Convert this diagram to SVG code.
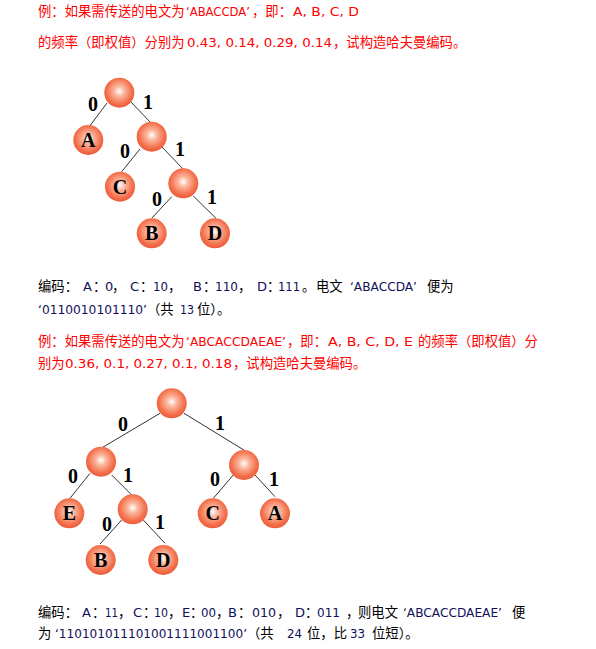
<svg xmlns="http://www.w3.org/2000/svg" width="596" height="649" viewBox="0 0 596 649">
<style>
.t{font-family:"Noto Sans CJK SC","DejaVu Sans",sans-serif;font-size:13.33px}
.l{font-family:"DejaVu Sans","Noto Sans CJK SC",sans-serif;font-size:13px}
.r{fill:#ff0000}
.k{fill:#000000}
.n{fill:#10105a}
.bit{font-family:"Liberation Serif",serif;font-weight:bold;font-size:20px;fill:#000}
.lbl{font-family:"Liberation Serif",serif;font-weight:bold;font-size:20px;fill:#000;text-anchor:middle}
.edge{stroke:#333;stroke-width:1;fill:none}
.ball{fill:url(#g)}
</style>
<defs>
<radialGradient id="g" cx="50%" cy="45%" r="55%">
<stop offset="0" stop-color="#ffffff"/>
<stop offset="0.3" stop-color="#fbb8a0"/>
<stop offset="0.75" stop-color="#f4734f"/>
<stop offset="1" stop-color="#ec5a38"/>
</radialGradient>
</defs>
<rect width="596" height="649" fill="#fff"/>

<g id="text1">
<text class="t r" y="16"><tspan x="38">例：如果需传送的电文为</tspan><tspan x="186" class="l" textLength="64" lengthAdjust="spacingAndGlyphs">‘ABACCDA’</tspan><tspan x="252">，即：</tspan><tspan x="293" class="l" textLength="66" lengthAdjust="spacingAndGlyphs">A, B, C, D</tspan></text>
<text class="t r" y="47"><tspan x="38">的频率（即权值）分别为</tspan><tspan x="187" class="l" textLength="145" lengthAdjust="spacingAndGlyphs">0.43, 0.14, 0.29, 0.14</tspan><tspan x="333">，试构造哈夫曼编码。</tspan></text>
</g>

<g id="tree1-edges">
<line class="edge" x1="107" y1="103" x2="89" y2="127"/>
<line class="edge" x1="130" y1="101" x2="152" y2="124"/>
<line class="edge" x1="140" y1="149" x2="121.7" y2="171.7"/>
<line class="edge" x1="161.7" y1="146.7" x2="184" y2="170"/>
<line class="edge" x1="171.7" y1="196.7" x2="151.7" y2="218.3"/>
<line class="edge" x1="193.3" y1="196" x2="216" y2="218.3"/>
</g>
<g id="tree1-bits">
<text class="bit" x="88" y="111">0</text>
<text class="bit" x="143" y="109">1</text>
<text class="bit" x="120" y="158">0</text>
<text class="bit" x="175" y="156">1</text>
<text class="bit" x="152" y="206">0</text>
<text class="bit" x="207" y="204">1</text>
</g>
<g id="t1-root"><circle class="ball" cx="119.3" cy="92.7" r="15"/></g>
<g id="t1-A"><circle class="ball" cx="88.3" cy="140" r="15"/><text class="lbl" x="88.3" y="147">A</text></g>
<g id="t1-n2"><circle class="ball" cx="151.7" cy="136.7" r="15"/></g>
<g id="t1-C"><circle class="ball" cx="120" cy="186.7" r="15"/><text class="lbl" x="120" y="193.7">C</text></g>
<g id="t1-n3"><circle class="ball" cx="183.3" cy="183.3" r="15"/></g>
<g id="t1-B"><circle class="ball" cx="151.7" cy="233.3" r="15"/><text class="lbl" x="151.7" y="240.3">B</text></g>
<g id="t1-D"><circle class="ball" cx="215" cy="233.3" r="15"/><text class="lbl" x="215" y="240.3">D</text></g>

<g id="text2">
<text class="t k" y="291"><tspan x="38">编码：</tspan><tspan x="83" class="l n">A</tspan><tspan x="93">：</tspan><tspan x="105" class="l n">0</tspan><tspan x="112">，</tspan><tspan x="130" class="l n">C</tspan><tspan x="140">：</tspan><tspan x="153" class="l n" textLength="15" lengthAdjust="spacingAndGlyphs">10</tspan><tspan x="168">，</tspan><tspan x="193" class="l n">B</tspan><tspan x="203">：</tspan><tspan x="215" class="l n" textLength="23" lengthAdjust="spacingAndGlyphs">110</tspan><tspan x="238">，</tspan><tspan x="257" class="l n">D</tspan><tspan x="267">：</tspan><tspan x="278" class="l n" textLength="22" lengthAdjust="spacingAndGlyphs">111</tspan><tspan x="302">。</tspan><tspan x="316">电文</tspan><tspan x="350" class="l n" textLength="67" lengthAdjust="spacingAndGlyphs">‘ABACCDA’</tspan><tspan x="427">便为</tspan></text>
<text class="t k" y="314"><tspan x="38" class="l n" textLength="109" lengthAdjust="spacingAndGlyphs">‘0110010101110’</tspan><tspan x="147">（共</tspan><tspan x="180" class="l n" textLength="14" lengthAdjust="spacingAndGlyphs">13</tspan><tspan x="197">位）。</tspan></text>
<text class="t r" y="346"><tspan x="38">例：如果需传送的电文为</tspan><tspan x="186" class="l" textLength="100" lengthAdjust="spacingAndGlyphs">‘ABCACCDAEAE’</tspan><tspan x="287">，即：</tspan><tspan x="328" class="l" textLength="85" lengthAdjust="spacingAndGlyphs">A, B, C, D, E</tspan><tspan x="418">的频率（即权值）分</tspan></text>
<text class="t r" y="368"><tspan x="38">别为</tspan><tspan x="65" class="l" textLength="167" lengthAdjust="spacingAndGlyphs">0.36, 0.1, 0.27, 0.1, 0.18</tspan><tspan x="233">，试构造哈夫曼编码。</tspan></text>
</g>

<g id="tree2-edges">
<line class="edge" x1="160" y1="413.3" x2="101" y2="448.3"/>
<line class="edge" x1="184" y1="413.3" x2="245" y2="450.7"/>
<line class="edge" x1="90" y1="473.3" x2="70" y2="498.3"/>
<line class="edge" x1="111.7" y1="475" x2="131.7" y2="495"/>
<line class="edge" x1="121.7" y1="520" x2="100" y2="544"/>
<line class="edge" x1="143.3" y1="520" x2="165" y2="543.3"/>
<line class="edge" x1="233.3" y1="475" x2="213.3" y2="498.3"/>
<line class="edge" x1="255" y1="475" x2="275" y2="496.7"/>
</g>
<g id="tree2-bits">
<text class="bit" x="118" y="431">0</text>
<text class="bit" x="215" y="430">1</text>
<text class="bit" x="68" y="483">0</text>
<text class="bit" x="123" y="482">1</text>
<text class="bit" x="210" y="486">0</text>
<text class="bit" x="269" y="486">1</text>
<text class="bit" x="102" y="531">0</text>
<text class="bit" x="155" y="529">1</text>
</g>
<g id="t2-root"><circle class="ball" cx="171.7" cy="403.3" r="15"/></g>
<g id="t2-L"><circle class="ball" cx="101" cy="461.7" r="15"/></g>
<g id="t2-R"><circle class="ball" cx="244" cy="465" r="15"/></g>
<g id="t2-E"><circle class="ball" cx="69.3" cy="513.3" r="15"/><text class="lbl" x="69.3" y="520.3">E</text></g>
<g id="t2-LR"><circle class="ball" cx="132.7" cy="509.3" r="15"/></g>
<g id="t2-C"><circle class="ball" cx="212.7" cy="513.3" r="15"/><text class="lbl" x="212.7" y="520.3">C</text></g>
<g id="t2-A"><circle class="ball" cx="275" cy="513.3" r="15"/><text class="lbl" x="275" y="520.3">A</text></g>
<g id="t2-B"><circle class="ball" cx="100.7" cy="560" r="15"/><text class="lbl" x="100.7" y="567">B</text></g>
<g id="t2-D"><circle class="ball" cx="163.3" cy="560" r="15"/><text class="lbl" x="163.3" y="567">D</text></g>

<g id="text3">
<text class="t k" y="617"><tspan x="38">编码：</tspan><tspan x="82" class="l n">A</tspan><tspan x="92">：</tspan><tspan x="105" class="l n" textLength="13" lengthAdjust="spacingAndGlyphs">11</tspan><tspan x="118">，</tspan><tspan x="133" class="l n">C</tspan><tspan x="143">：</tspan><tspan x="154" class="l n" textLength="14" lengthAdjust="spacingAndGlyphs">10</tspan><tspan x="168">，</tspan><tspan x="182" class="l n">E</tspan><tspan x="190">：</tspan><tspan x="201" class="l n" textLength="15" lengthAdjust="spacingAndGlyphs">00</tspan><tspan x="216">，</tspan><tspan x="228" class="l n">B</tspan><tspan x="238">：</tspan><tspan x="252" class="l n" textLength="24" lengthAdjust="spacingAndGlyphs">010</tspan><tspan x="277">，</tspan><tspan x="295" class="l n">D</tspan><tspan x="305">：</tspan><tspan x="317" class="l n" textLength="23" lengthAdjust="spacingAndGlyphs">011</tspan><tspan x="346">，</tspan><tspan x="358">则电文</tspan><tspan x="403" class="l n" textLength="99" lengthAdjust="spacingAndGlyphs">‘ABCACCDAEAE’</tspan><tspan x="512">便</tspan></text>
<text class="t k" y="638"><tspan x="38">为</tspan><tspan x="55" class="l n" textLength="192" lengthAdjust="spacingAndGlyphs">‘110101011101001111001100’</tspan><tspan x="247">（共</tspan><tspan x="287" class="l n" textLength="15" lengthAdjust="spacingAndGlyphs">24</tspan><tspan x="307">位，比</tspan><tspan x="350" class="l n" textLength="15" lengthAdjust="spacingAndGlyphs">33</tspan><tspan x="372">位短）。</tspan></text>
</g>
</svg>
